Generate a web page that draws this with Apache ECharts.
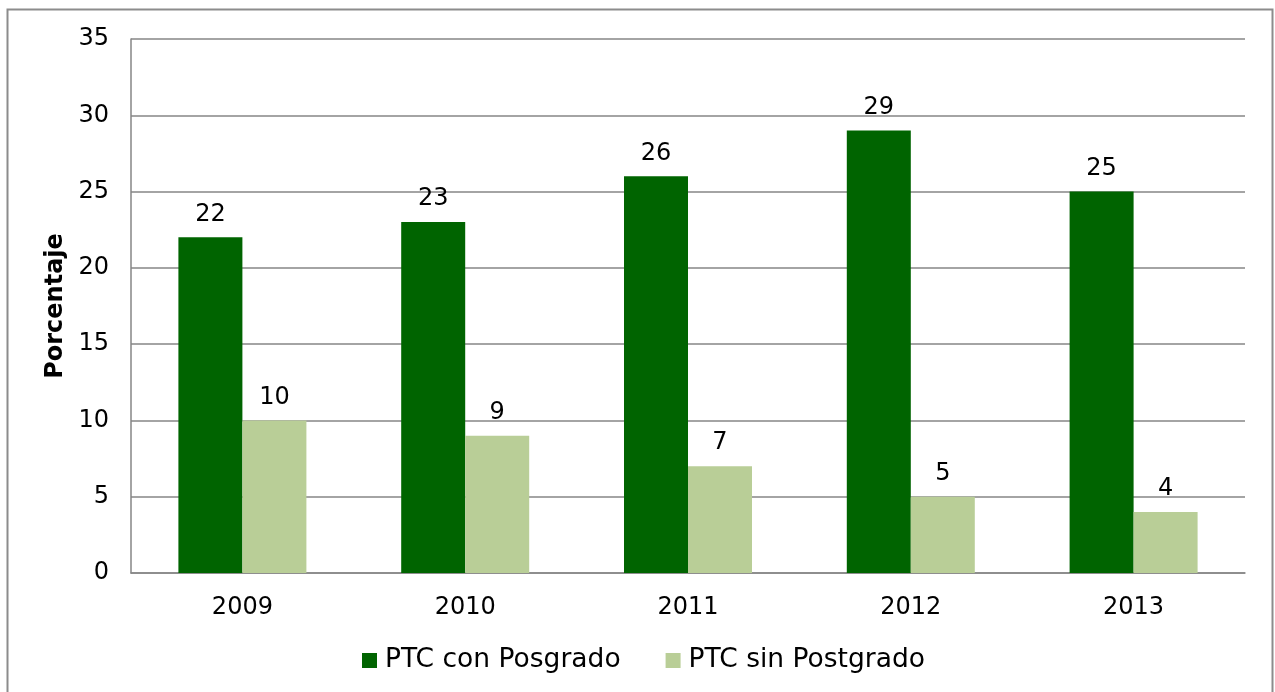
<!DOCTYPE html>
<html>
<head>
<meta charset="utf-8">
<script src="https://cdn.jsdelivr.net/npm/echarts@6/dist/echarts.min.js"></script>
<style>
  html, body { margin: 0; padding: 0; background: #fff; }
  #chart { width: 1275px; height: 692px; }
</style>
</head>
<body>
<div id="chart"></div>
<script>
// años y porcentajes
const years = ["2009", "2010", "2011", "2012", "2013"];
const conPosgrado = [22, 23, 26, 29, 25];
const sinPostgrado = [10, 9, 7, 5, 4];
const yTicks = [0, 5, 10, 15, 20, 25, 30, 35];

const font = "DejaVu Sans, Verdana, sans-serif";
const chart = echarts.init(document.getElementById("chart"));

chart.setOption({
  animation: false,
  color: ["#006400", "#B9CE97"],
  textStyle: { fontFamily: font, color: "#000" },
  // marco exterior
  graphic: [
    {
      type: "rect",
      shape: { x: 7.5, y: 9.5, width: 1265, height: 720 },
      style: { fill: "none", stroke: "#8c8c8c", lineWidth: 2 },
      silent: true,
    },
  ],
  legend: {
    data: ["PTC con Posgrado", "PTC sin Postgrado"],
    top: 647,
    left: 362,
    padding: 0,
    itemWidth: 15,
    itemHeight: 15,
    itemGap: 45,
    icon: "rect",
    textStyle: { fontSize: 26.5, fontFamily: font, color: "#000", padding: [0, 0, 0, 3] },
  },
  grid: { left: 131, right: 30, top: 39, bottom: 119 },
  xAxis: {
    type: "category",
    data: years,
    axisTick: { show: false },
    axisLine: { lineStyle: { color: "#868686", width: 1.5 } },
    axisLabel: { fontSize: 24, color: "#000", margin: 23 },
  },
  yAxis: {
    type: "value",
    min: yTicks[0],
    max: yTicks[yTicks.length - 1],
    interval: 5,
    name: "Porcentaje",
    nameLocation: "middle",
    nameGap: 62,
    nameTextStyle: { fontSize: 24, fontWeight: "bold", color: "#000", fontFamily: font },
    axisLine: { show: true, lineStyle: { color: "#868686", width: 1.5 } },
    axisTick: { show: false },
    axisLabel: { fontSize: 24, color: "#000", margin: 22 },
    splitLine: { lineStyle: { color: "#868686", width: 1.5 } },
  },
  series: [
    {
      name: "PTC con Posgrado",
      type: "bar",
      data: conPosgrado,
      barWidth: 64,
      barGap: "0%",
      label: { show: true, position: "top", distance: 11, fontSize: 24, color: "#000" },
    },
    {
      name: "PTC sin Postgrado",
      type: "bar",
      data: sinPostgrado,
      barWidth: 64,
      barGap: "0%",
      label: { show: true, position: "top", distance: 11, fontSize: 24, color: "#000" },
    },
  ],
});
</script>
</body>
</html>
